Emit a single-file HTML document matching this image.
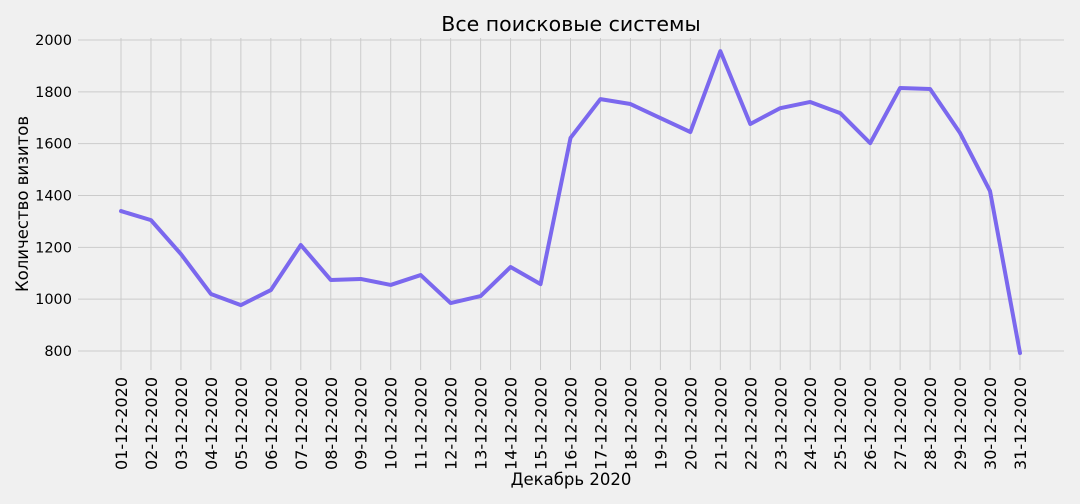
<!DOCTYPE html>
<html><head><meta charset="utf-8"><style>
body{margin:0;background:#f0f0f0;}
svg{display:block;font-family:"DejaVu Sans","Liberation Sans",sans-serif;}
</style></head><body>
<svg id="chart" width="1080" height="504">
<rect width="1080" height="504" fill="#f0f0f0"/>
<g id="grid"></g><g id="axes"></g>
<text x="571" y="31" text-anchor="middle" font-size="20.5" fill="#000">Все поисковые системы</text>
<text x="571" y="485" text-anchor="middle" font-size="16.5" fill="#000">Декабрь 2020</text>
<text transform="translate(28,204) rotate(-90)" text-anchor="middle" font-size="16.5" fill="#000">Количество визитов</text>
</svg>
<script>
const categories=["01-12-2020","02-12-2020","03-12-2020","04-12-2020","05-12-2020","06-12-2020","07-12-2020","08-12-2020","09-12-2020","10-12-2020","11-12-2020","12-12-2020","13-12-2020","14-12-2020","15-12-2020","16-12-2020","17-12-2020","18-12-2020","19-12-2020","20-12-2020","21-12-2020","22-12-2020","23-12-2020","24-12-2020","25-12-2020","26-12-2020","27-12-2020","28-12-2020","29-12-2020","30-12-2020","31-12-2020"];
const visits=[1340,1305,1174,1020,977,1035,1209,1074,1078,1055,1093,985,1012,1124,1058,1622,1772,1753,1699,1645,1957,1676,1737,1761,1718,1602,1815,1811,1641,1417,792];
const yTicks=[800,1000,1200,1400,1600,1800,2000];
const NS="http://www.w3.org/2000/svg";
const svg=document.getElementById('chart');
const grid=document.getElementById('grid'),axes=document.getElementById('axes');
const x=i=>121+i*(1020-121)/(categories.length-1);
const y=v=>351-(v-800)*(311/1200);
function mk(t,a,p){const e=document.createElementNS(NS,t);for(const k in a)e.setAttribute(k,a[k]);p.appendChild(e);return e;}
yTicks.forEach(v=>{
  const l=mk('line',{x1:78,x2:1064,y1:y(v),y2:y(v),stroke:'#cbcbcb','stroke-width':1},grid);
  
  
  const t=mk('text',{x:72,y:y(v)+5,'text-anchor':'end','font-size':14.5},axes);
  t.textContent=v;
  
  
});
categories.forEach((c,i)=>{
  const l=mk('line',{x1:x(i),x2:x(i),y1:38,y2:370,stroke:'#cbcbcb','stroke-width':1},grid);
  
  
  const t=mk('text',{transform:`translate(${x(i)+6},377) rotate(-90)`,'text-anchor':'end','font-size':16},axes);
  t.textContent=c;
  
  
});
const p=mk('polyline',{points:visits.map((v,i)=>x(i)+','+y(v)).join(' '),fill:'none',stroke:'#7b68ee','stroke-width':4,'stroke-linejoin':'round','stroke-linecap':'round'},svg);


</script>
</body></html>
